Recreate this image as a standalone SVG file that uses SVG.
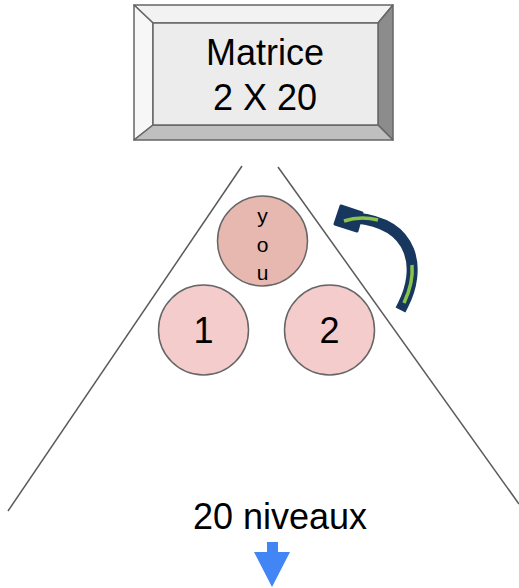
<svg xmlns="http://www.w3.org/2000/svg" width="519" height="588" viewBox="0 0 519 588">
<style>
.t{font-family:"Liberation Sans",Arial,sans-serif;fill:#000;text-anchor:middle}
.c{stroke:#666;stroke-width:1.5}
.ln{stroke:#595959;stroke-width:1.5;fill:none}
.bv{stroke:#666;stroke-width:1.5;stroke-linejoin:round}
</style>
<rect width="519" height="588" fill="#fff"/>
<g id="matrice">
<polygon class="bv" points="134,5 393,5 378,23 153,23" fill="#f2f2f2"/>
<polygon class="bv" points="134,5 153,23 153,125 134,140" fill="#f7f7f7"/>
<polygon class="bv" points="393,5 393,140 378,125 378,23" fill="#8c8c8c"/>
<polygon class="bv" points="134,140 153,125 378,125 393,140" fill="#bfbfbf"/>
<rect class="bv" x="153" y="23" width="225" height="102" fill="#ececec"/>
<text class="t" x="265" y="65" font-size="36">Matrice</text>
<text class="t" x="265" y="110" font-size="36">2 X 20</text>
</g>
<g id="pyramid">
<line class="ln" x1="242" y1="166" x2="8" y2="511"/>
<line class="ln" x1="278" y1="167" x2="519" y2="504"/>
</g>
<g id="you">
<circle class="c" cx="262.5" cy="241" r="45" fill="#e6b8af"/>
<text class="t" x="262.5" y="223" font-size="21">y</text>
<text class="t" x="262.5" y="252" font-size="21">o</text>
<text class="t" x="262.5" y="280" font-size="21">u</text>
</g>
<g id="n1">
<circle class="c" cx="203.5" cy="330" r="45" fill="#f4cccc"/>
<text class="t" x="203.5" y="343" font-size="36">1</text>
</g>
<g id="n2">
<circle class="c" cx="329.5" cy="330" r="45" fill="#f4cccc"/>
<text class="t" x="329.5" y="343" font-size="36">2</text>
</g>
<g id="connectors">
<g id="curved-arrow">
<path d="M403,305 C421,270 416,224 356,218" fill="none" stroke="#17375e" stroke-width="11" stroke-linecap="square"/>
<polygon points="335,224 341,206 362,213 357,231" fill="#17375e" stroke="#17375e" stroke-width="3" stroke-linejoin="round"/>
<path d="M404,303 C411,288 413,276 412,265" fill="none" stroke="#8bc34a" stroke-width="3.5"/>
<path d="M344,221 C356,217 366,217 378,220" fill="none" stroke="#8bc34a" stroke-width="3.5"/>
</g>
<g id="down-arrow">
<polygon points="267,542 278,542 278,552 290,552 272,587 254,552 267,552" fill="#4285f4"/>
</g>
</g>
<g id="label">
<text class="t" x="280" y="529" font-size="36">20 niveaux</text>
</g>
</svg>
